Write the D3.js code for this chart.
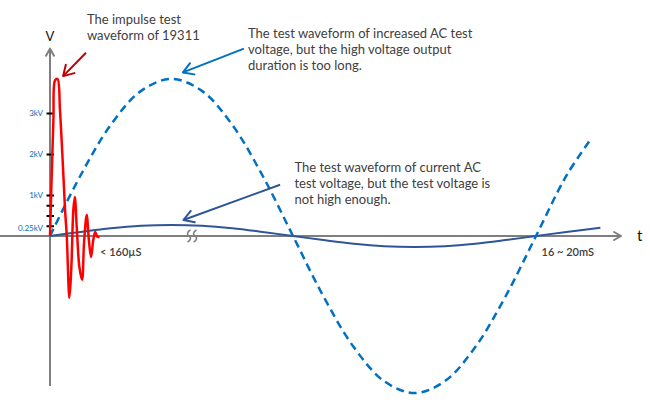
<!DOCTYPE html>
<html>
<head>
<meta charset="utf-8">
<script src="https://cdn.jsdelivr.net/npm/d3@7"></script>
<style>
  body { margin: 0; background: #fff; }
  svg { display: block; }
  text { font-family: Lato, "Open Sans", sans-serif; }
</style>
</head>
<body>
<div id="chart"></div>
<script>
// time in ms (one AC period = 20 ms), voltage in kV
const acTime = [0, 1.25, 2.5, 3.75, 5, 6.25, 7.5, 8.75, 10, 11.25, 12.5, 13.75, 15, 16.25, 17.5, 18.75, 20, 21.25, 22.3];
const raisedAC = [0, 1.47, 2.71, 3.54, 3.83, 3.54, 2.71, 1.47, 0, -1.47, -2.71, -3.54, -3.83, -3.54, -2.71, -1.47, 0, 1.47, 2.4];

const currentTime = [0, 1.25, 2.5, 3.75, 5, 6.25, 7.5, 8.75, 10, 11.25, 12.5, 13.75, 15, 16.25, 17.5, 18.75, 20, 21.25, 22.65];
const currentAC = [0, 0.1, 0.19, 0.25, 0.27, 0.25, 0.19, 0.1, 0, -0.1, -0.19, -0.25, -0.27, -0.25, -0.19, -0.1, 0, 0.1, 0.2];

// impulse (ringing) waveform
const impulseTime = [0, 0.14, 0.21, 0.31, 0.41, 0.52, 0.62, 0.69, 0.75, 0.79, 0.84, 0.89, 0.96, 1.02, 1.10, 1.21, 1.32, 1.40, 1.51, 1.60, 1.69, 1.78, 1.86, 1.95, 2.03];
const impulseV = [0, 2.83, 3.8, 3.83, 3.07, 1.85, 0.63, 0, -1.0, -1.51, -1.2, -0.59, 0.63, 0.95, 0.22, -0.76, -1.07, -0.17, 0.51, -0.1, -0.51, -0.1, 0.1, -0.02, -0.02];

const tickValues = [0.25, 0.5, 0.75, 1, 2, 3];
const tickLabels = { 0.25: "0.25kV", 1: "1kV", 2: "2kV", 3: "3kV" };

const tRange = [-2.06, 23.5];
const vRange = [-3.66, 4.57];
const breakTimes = [5.72, 5.97];

const notes = [
  { lines: ["The impulse test", "waveform of 19311"], t: 1.52, v: 5.18 },
  { lines: ["The test waveform of increased AC test", "voltage, but the high voltage output", "duration is too long."], t: 8.15, v: 4.83 },
  { lines: ["The test waveform of current AC", "test voltage, but the test voltage is", "not high enough."], t: 10.06, v: 1.57 }
];
const arrows = [
  { from: [1.48, 4.47], to: [0.54, 3.9], color: "#C00000" },
  { from: [7.98, 4.57], to: [5.47, 3.99], color: "#0070C0" },
  { from: [9.47, 1.25], to: [5.49, 0.39], color: "#2F5597" }
];

const width = 650, height = 400;
const svg = d3.select("#chart").append("svg")
  .attr("width", width)
  .attr("height", height);

const x = d3.scaleLinear().domain([0, 20]).range([50, 536]);
const y = d3.scaleLinear().domain([0, 3]).range([236, 113]);

const defs = svg.append("defs");
function chevron(id, color, len, spread, sw) {
  defs.append("marker")
    .attr("id", id)
    .attr("markerUnits", "userSpaceOnUse")
    .attr("viewBox", `${-len - 2} ${-spread - 2} ${len + 4} ${2 * spread + 4}`)
    .attr("markerWidth", len + 4)
    .attr("markerHeight", 2 * spread + 4)
    .attr("refX", 0).attr("refY", 0)
    .attr("orient", "auto")
    .append("path")
    .attr("d", `M${-len},${-spread} L0,0 L${-len},${spread}`)
    .attr("fill", "none")
    .attr("stroke", color)
    .attr("stroke-width", sw)
    .attr("stroke-linecap", "round")
    .attr("stroke-linejoin", "round");
}
chevron("axisArrow", "#7F7F7F", 7, 4, 2);
arrows.forEach((a, i) => chevron("noteArrow" + i, a.color, 10, 6, 2));

// axes
svg.append("line")
  .attr("x1", x(tRange[0])).attr("x2", x(tRange[1]))
  .attr("y1", y(0)).attr("y2", y(0))
  .attr("stroke", "#7F7F7F").attr("stroke-width", 2)
  .attr("marker-end", "url(#axisArrow)");
svg.append("line")
  .attr("x1", x(0)).attr("x2", x(0))
  .attr("y1", y(vRange[0])).attr("y2", y(vRange[1]))
  .attr("stroke", "#7F7F7F").attr("stroke-width", 2)
  .attr("marker-end", "url(#axisArrow)");

svg.append("text")
  .attr("x", x(0)).attr("y", 41)
  .attr("text-anchor", "middle")
  .attr("font-size", 13)
  .attr("fill", "#111")
  .text("V");
svg.append("text")
  .attr("x", 637).attr("y", y(0) + 5)
  .attr("font-size", 15)
  .attr("fill", "#111")
  .text("t");

// kV ticks
const yAxis = svg.append("g")
  .attr("transform", `translate(${x(0) + 4},0)`)
  .call(d3.axisLeft(y)
    .tickValues(tickValues)
    .tickSize(7.5)
    .tickPadding(3.5)
    .tickFormat(d => tickLabels[d] || ""));
yAxis.select(".domain").remove();
yAxis.selectAll(".tick line").attr("stroke", "#000").attr("stroke-width", 2);
yAxis.selectAll(".tick text")
  .attr("fill", "#0070C0")
  .attr("font-size", 8)
  .attr("font-family", "Lato, sans-serif")
  .attr("dy", d => d === 0.25 ? "0.65em" : "0.32em");

// axis break marks
svg.selectAll(".brk")
  .data(breakTimes)
  .enter()
  .append("path")
  .attr("class", "brk")
  .attr("transform", d => `translate(${x(d)},${y(0)})`)
  .attr("d", "M1.5,-6 C-2.5,-4 -2,-1 0,0 C2,1 2.5,4 -1.5,6")
  .attr("fill", "none")
  .attr("stroke", "#7F7F7F")
  .attr("stroke-width", 1.6);

const line = d3.line()
  .x(d => x(d[0]))
  .y(d => y(d[1]))
  .curve(d3.curveCatmullRom.alpha(0.5));

svg.append("path")
  .attr("d", line(currentTime.map((t, i) => [t, currentAC[i]])))
  .attr("fill", "none")
  .attr("stroke", "#2F5597")
  .attr("stroke-width", 2);

svg.append("path")
  .attr("d", line(acTime.map((t, i) => [t, raisedAC[i]])))
  .attr("fill", "none")
  .attr("stroke", "#0070C0")
  .attr("stroke-width", 2.5)
  .attr("stroke-dasharray", "8,5");

svg.append("path")
  .attr("d", line(impulseTime.map((t, i) => [t, impulseV[i]])))
  .attr("fill", "none")
  .attr("stroke", "#FF0000")
  .attr("stroke-width", 2.5)
  .attr("stroke-linejoin", "round");

// annotation arrows
arrows.forEach((a, i) => {
  svg.append("line")
    .attr("x1", x(a.from[0])).attr("y1", y(a.from[1]))
    .attr("x2", x(a.to[0])).attr("y2", y(a.to[1]))
    .attr("stroke", a.color)
    .attr("stroke-width", 2)
    .attr("marker-end", `url(#noteArrow${i})`);
});

// annotation texts
notes.forEach(n => {
  const t = svg.append("text")
    .attr("x", x(n.t)).attr("y", y(n.v))
    .attr("font-size", 13)
    .attr("fill", "#404040");
  n.lines.forEach((l, i) => {
    t.append("tspan")
      .attr("x", x(n.t))
      .attr("dy", i === 0 ? 0 : 16)
      .text(l);
  });
});

svg.append("text")
  .attr("x", x(2.06)).attr("y", y(0) + 20)
  .attr("font-size", 11)
  .attr("font-weight", 600)
  .attr("fill", "#404040")
  .text("< 160µS");
svg.append("text")
  .attr("x", x(20.23)).attr("y", y(0) + 20)
  .attr("font-size", 11)
  .attr("font-weight", 600)
  .attr("fill", "#404040")
  .text("16 ~ 20mS");
</script>
</body>
</html>
